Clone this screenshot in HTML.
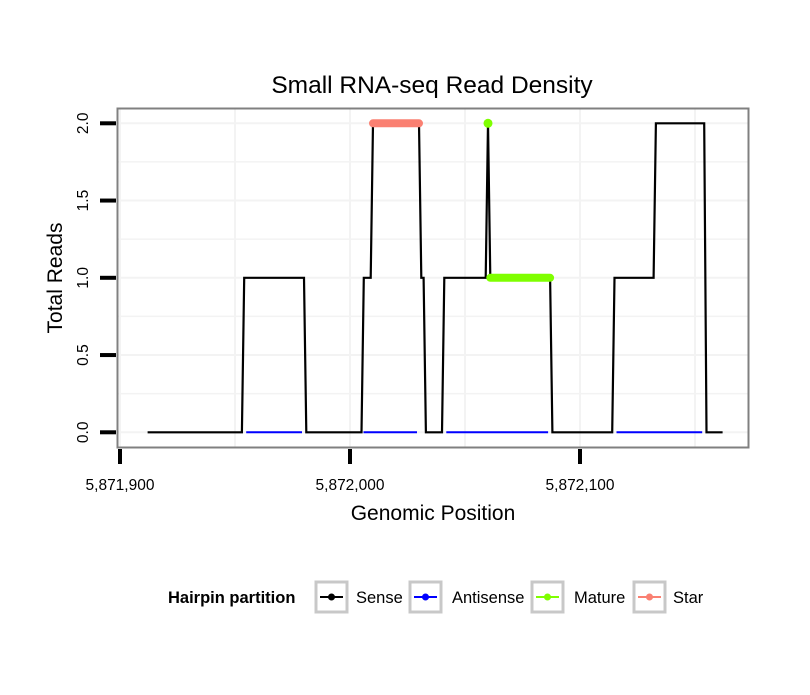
<!DOCTYPE html>
<html><head><meta charset="utf-8"><style>
body{margin:0;background:#fff;}
svg text{font-family:"Liberation Sans",Arial,sans-serif;}
</style></head><body>
<svg id="chart" width="810" height="690" viewBox="0 0 810 690" xmlns="http://www.w3.org/2000/svg">
<rect width="810" height="690" fill="#fff"/>
<text x="432" y="93" font-size="24.5" text-anchor="middle">Small RNA-seq Read Density</text>
<g id="grid"></g>
<g id="series"></g>
<rect x="117.5" y="108.5" width="631" height="339" fill="none" stroke="#808080" stroke-width="2"/>
<g id="axes"></g>
<text x="433" y="520" font-size="21" text-anchor="middle">Genomic Position</text>
<text x="0" y="0" font-size="21" text-anchor="middle" transform="translate(62,278) rotate(-90)">Total Reads</text>
<g>
<text x="168" y="603" font-size="16.5" font-weight="bold">Hairpin partition</text>
<g><rect x="316" y="582" width="31" height="30" fill="#fff" stroke="#c8c8c8" stroke-width="3"/><line x1="320" y1="597" x2="343" y2="597" stroke="#000" stroke-width="2"/><circle cx="331.5" cy="597" r="3.5" fill="#000"/><text x="356" y="603" font-size="16.5">Sense</text></g>
<g><rect x="410" y="582" width="31" height="30" fill="#fff" stroke="#c8c8c8" stroke-width="3"/><line x1="414" y1="597" x2="437" y2="597" stroke="#0000ff" stroke-width="2"/><circle cx="425.5" cy="597" r="3.5" fill="#0000ff"/><text x="452" y="603" font-size="16.5">Antisense</text></g>
<g><rect x="532" y="582" width="31" height="30" fill="#fff" stroke="#c8c8c8" stroke-width="3"/><line x1="536" y1="597" x2="559" y2="597" stroke="#7fff00" stroke-width="2"/><circle cx="547.5" cy="597" r="3.5" fill="#7fff00"/><text x="574" y="603" font-size="16.5">Mature</text></g>
<g><rect x="634" y="582" width="31" height="30" fill="#fff" stroke="#c8c8c8" stroke-width="3"/><line x1="638" y1="597" x2="661" y2="597" stroke="#fa8072" stroke-width="2"/><circle cx="649.5" cy="597" r="3.5" fill="#fa8072"/><text x="673" y="603" font-size="16.5">Star</text></g>
</g>
</svg>
<script>
const BASE = 5871900;
const xTicks = [5871900, 5872000, 5872100];
const xTickLabels = ["5,871,900", "5,872,000", "5,872,100"];
const yTicks = [0, 0.5, 1, 1.5, 2];
const yTickLabels = ["0.0", "0.5", "1.0", "1.5", "2.0"];
// sense coverage: [offset from BASE, reads]
const sensePos = [12,53,54,80,81,105,106,109,110,130,131,132,133,140,141,159,160,161,187,188,214,215,232,233,254,255,262];
const senseVal = [0,0,1,1,0,0,1,1,2,2,1,1,0,0,1,1,2,1,1,0,0,1,1,2,2,0,0];
const antisenseSegs = [[54,80],[105,130],[141,187],[215,254]];
const starPos = [110,130];
const starVal = [2,2];
const maturePos1 = [160];
const matureVal1 = [2];
const maturePos2 = [161,187];
const matureVal2 = [1,1];

const NS = "http://www.w3.org/2000/svg";
const xs = p => 120 + (p - BASE) * 2.3;
const xo = o => xs(BASE + o);
const ys = v => 432.3 - v * 154.5;
function mk(tag, attrs, parent){const e=document.createElementNS(NS,tag);for(const k in attrs)e.setAttribute(k,attrs[k]);parent.appendChild(e);return e;}
const grid=document.getElementById('grid'), series=document.getElementById('series'), axes=document.getElementById('axes');
for(let v=0; v<=2.0001; v+=0.25){
  const g=mk('line',{x1:118,x2:748,y1:ys(v),y2:ys(v),stroke:'#f3f3f3','stroke-width':v%0.5===0?2:1.5},grid);
  
  
}
for(let p=BASE; p<=BASE+270; p+=50){
  const g=mk('line',{x1:xs(p),x2:xs(p),y1:109,y2:447,stroke:'#f3f3f3','stroke-width':2},grid);
  
  
}
const sp=mk('polyline',{points:sensePos.map((p,i)=>xo(p)+','+ys(senseVal[i])).join(' '),fill:'none',stroke:'#000','stroke-width':2.2},series);


antisenseSegs.forEach(s=>{
  const l=mk('line',{x1:xo(s[0])+2,x2:xo(s[1])-2,y1:ys(0),y2:ys(0),stroke:'#0000ff','stroke-width':2},series);
  
  
});
const st=mk('polyline',{points:starPos.map((p,i)=>xo(p)+','+ys(starVal[i])).join(' '),fill:'none',stroke:'#fa8072','stroke-width':8,'stroke-linecap':'round'},series);


maturePos1.forEach((p,i)=>{
  const c=mk('circle',{cx:xo(p),cy:ys(matureVal1[i]),r:4.5,fill:'#7fff00'},series);
  
  
});
const mt=mk('polyline',{points:maturePos2.map((p,i)=>xo(p)+','+ys(matureVal2[i])).join(' '),fill:'none',stroke:'#7fff00','stroke-width':8,'stroke-linecap':'round'},series);


xTicks.forEach((t,i)=>{
  const l=mk('line',{x1:xs(t),x2:xs(t),y1:449,y2:464,stroke:'#000','stroke-width':4},axes);
  
  
  const tx=mk('text',{x:xs(t),y:490,'font-size':15.5,'text-anchor':'middle'},axes);
  tx.textContent=xTickLabels[i];
  
  
});
yTicks.forEach((t,i)=>{
  const l=mk('line',{x1:100,x2:116,y1:ys(t),y2:ys(t),stroke:'#000','stroke-width':4},axes);
  
  
  const tx=mk('text',{x:0,y:0,'font-size':15.5,'text-anchor':'middle',transform:'translate(88,'+ys(t)+') rotate(-90)'},axes);
  tx.textContent=yTickLabels[i];
  
  
});
</script>
</body></html>
